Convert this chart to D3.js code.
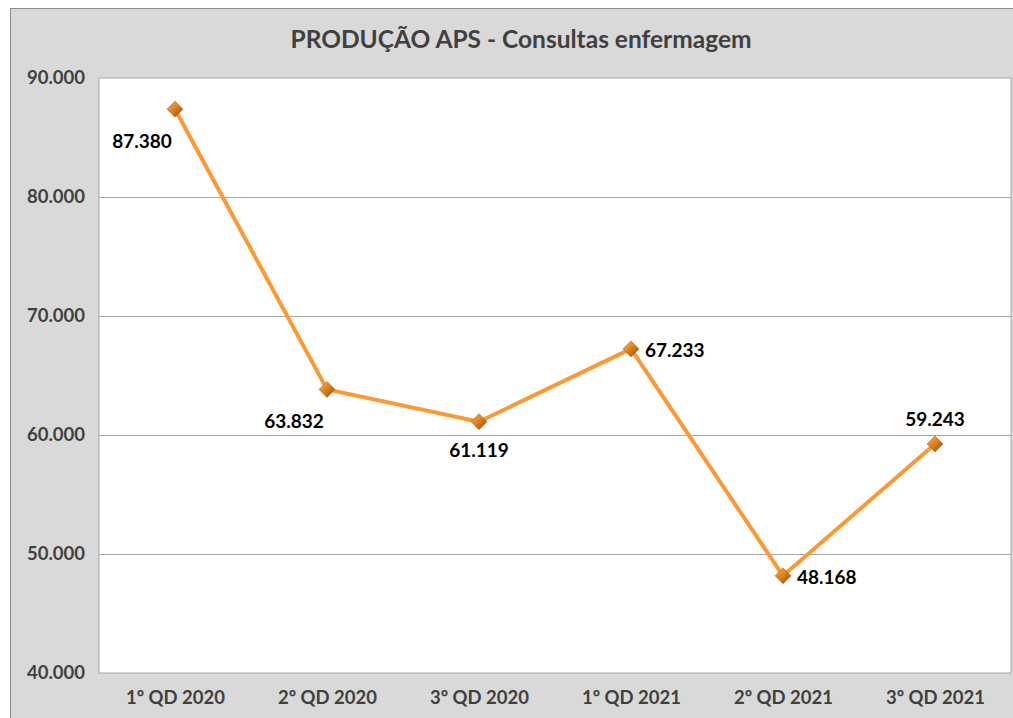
<!DOCTYPE html>
<html>
<head>
<meta charset="utf-8">
<script src="https://cdn.jsdelivr.net/npm/d3@7"></script>
<style>
  body { margin: 0; background: #fff; }
  svg { display: block; font-family: Lato, "Open Sans", sans-serif; }
</style>
</head>
<body>
<svg id="chart" width="1013" height="718"></svg>
<script>
const categories = ['1º QD 2020', '2º QD 2020', '3º QD 2020', '1º QD 2021', '2º QD 2021', '3º QD 2021']
const values = [87380, 63832, 61119, 67233, 48168, 59243]
const yTicks = [40000, 50000, 60000, 70000, 80000, 90000]
// where each data label sits relative to its point
const labelPos = ['below-left', 'below-left', 'below', 'right', 'right', 'above']

const svg = d3.select('#chart')
const margin = {left: 99, right: 2, top: 78, bottom: 45}
const W = 1013, H = 718
const width = W - margin.left - margin.right
const height = H - margin.top - margin.bottom

// chart area background
svg.append('rect').attr('x', 10.5).attr('y', 8.5).attr('width', 1010).attr('height', 720)
  .attr('fill', '#d9d9d9').attr('stroke', '#8c8c8c')

svg.append('text').attr('x', 521).attr('y', 48).attr('text-anchor', 'middle')
  .attr('font-size', 24.5).attr('font-weight', 'bold').attr('fill', '#404040')
  .text('PRODUÇÃO APS - Consultas enfermagem')

const g = svg.append('g').attr('transform', 'translate(' + margin.left + ',' + margin.top + ')')

const x = d3.scalePoint().domain(categories).range([0, width]).padding(0.5)
const y = d3.scaleLinear().domain([40000, 90000]).range([height, 0])

g.append('rect').attr('width', width).attr('height', height).attr('fill', '#fff')
  .attr('stroke', '#a6a6a6')

g.selectAll('.grid').data(yTicks.slice(1, -1)).enter().append('line')
  .attr('x1', 0).attr('x2', width)
  .attr('y1', d => Math.round(y(d)) + 0.5).attr('y2', d => Math.round(y(d)) + 0.5)
  .attr('stroke', '#a6a6a6').attr('stroke-width', 1)

const fmt = d3.formatLocale({decimal: ',', thousands: '.', grouping: [3], currency: ['', '']}).format(',.0f')

const yAxis = d3.axisLeft(y).tickValues(yTicks).tickSize(0).tickPadding(0)
  .tickFormat(d => fmt(d))
g.append('g').call(yAxis).call(a => a.select('.domain').remove())
  .selectAll('text').attr('x', -14).attr('dy', '0.3em').attr('text-anchor', 'end')
  .attr('font-family', 'Lato, sans-serif').attr('font-size', 18.5).attr('font-weight', 'bold').attr('fill', '#404040')

const xAxis = d3.axisBottom(x).tickSize(0).tickPadding(18)
g.append('g').attr('transform', 'translate(0,' + height + ')').call(xAxis)
  .call(a => a.select('.domain').remove())
  .selectAll('text').attr('font-family', 'Lato, sans-serif').attr('font-size', 18.5)
  .attr('font-weight', 'bold').attr('fill', '#404040')

const defs = svg.append('defs')
const grad = defs.append('linearGradient').attr('id', 'mk').attr('x1', 0).attr('y1', 0).attr('x2', 1).attr('y2', 1)
grad.append('stop').attr('offset', '0%').attr('stop-color', '#f7b45a')
grad.append('stop').attr('offset', '50%').attr('stop-color', '#d97f1e')
grad.append('stop').attr('offset', '100%').attr('stop-color', '#8a4a0c')

const line = d3.line().x((d, i) => x(categories[i])).y(d => y(d))
g.append('path').datum(values).attr('d', line).attr('fill', 'none')
  .attr('stroke', '#f99a36').attr('stroke-width', 4).attr('stroke-linejoin', 'round')

g.selectAll('.pt').data(values).enter().append('path')
  .attr('transform', (d, i) => 'translate(' + x(categories[i]) + ',' + y(d) + ')')
  .attr('d', 'M0,-8L8,0L0,8L-8,0Z').attr('fill', 'url(#mk)').attr('stroke', '#b8651a').attr('stroke-width', 0.6)

const offsets = {
  'below-left': [-33, 39, 'middle'],
  'below': [0, 35, 'middle'],
  'right': [14, 8, 'start'],
  'above': [0, -18, 'middle']
}
g.selectAll('.lbl').data(values).enter().append('text')
  .attr('x', (d, i) => x(categories[i]) + offsets[labelPos[i]][0])
  .attr('y', (d, i) => y(d) + offsets[labelPos[i]][1])
  .attr('text-anchor', (d, i) => offsets[labelPos[i]][2])
  .attr('font-size', 19).attr('font-weight', 'bold').attr('fill', '#000')
  .text(d => fmt(d))
</script>
</body>
</html>
